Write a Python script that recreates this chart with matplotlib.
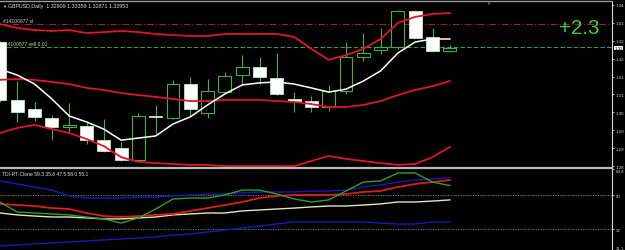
import numpy as np
import matplotlib
matplotlib.use('Agg')
import matplotlib.pyplot as plt
from matplotlib.lines import Line2D

# ..price data (GBPUSD daily)..
opens = [1.3276, 1.3082, 1.3051, 1.3021, 1.2991, 1.2994, 1.2947, 1.2921, 1.2880,
         1.3028, 1.3021, 1.3135, 1.3038, 1.3108, 1.3165, 1.3192, 1.3155, 1.3085,
         1.3078, 1.3058, 1.3112, 1.3226, 1.3249, 1.3259, 1.3380, 1.3293, 1.3246]
highs = [1.3279, 1.3145, 1.3075, 1.3031, 1.3071, 1.3011, 1.3018, 1.2941, 1.3038,
         1.3065, 1.3149, 1.3159, 1.3152, 1.3175, 1.3232, 1.3226, 1.3239, 1.3108,
         1.3095, 1.3132, 1.3276, 1.3306, 1.3323, 1.3383, 1.3383, 1.3323, 1.3266]
lows = [1.3075, 1.3008, 1.3011, 1.2947, 1.2974, 1.2934, 1.2907, 1.2877, 1.2877,
        1.2967, 1.3018, 1.3028, 1.3021, 1.3102, 1.3135, 1.3135, 1.3098, 1.3041,
        1.3041, 1.3045, 1.3102, 1.3212, 1.3236, 1.3253, 1.3289, 1.3242, 1.3242]
closes = [1.3082, 1.3041, 1.3025, 1.2991, 1.2998, 1.2947, 1.2911, 1.2880, 1.3028,
          1.3025, 1.3135, 1.3051, 1.3112, 1.3162, 1.3192, 1.3159, 1.3102, 1.3078,
          1.3058, 1.3112, 1.3226, 1.3239, 1.3259, 1.3380, 1.3289, 1.3246, 1.3256]

upper_band = [1.3336, 1.3323, 1.3316, 1.3313, 1.3316, 1.3306, 1.3309, 1.3313, 1.3309,
              1.3303, 1.3299, 1.3296, 1.3296, 1.3303, 1.3303, 1.3303, 1.3303, 1.3293,
              1.3253, 1.3216, 1.3232, 1.3253, 1.3286, 1.3340, 1.3360, 1.3370, 1.3373]
mid_band = [1.3149, 1.3152, 1.3149, 1.3142, 1.3135, 1.3122, 1.3115, 1.3105, 1.3098,
            1.3092, 1.3085, 1.3078, 1.3078, 1.3082, 1.3082, 1.3082, 1.3078, 1.3075,
            1.3068, 1.3058, 1.3058, 1.3065, 1.3078, 1.3098, 1.3115, 1.3128, 1.3145]
lower_band = [1.2971, 1.2988, 1.2998, 1.2984, 1.2971, 1.2951, 1.2927, 1.2890, 1.2874,
              1.2870, 1.2867, 1.2864, 1.2864, 1.2860, 1.2860, 1.2860, 1.2860, 1.2860,
              1.2877, 1.2894, 1.2884, 1.2877, 1.2870, 1.2864, 1.2867, 1.2890, 1.2924]
ma_white = [1.3185, 1.3165, 1.3135, 1.3085, 1.3028, 1.3008, 1.2984, 1.2947, 1.2954,
            1.2961, 1.3001, 1.3025, 1.3065, 1.3102, 1.3132, 1.3139, 1.3142, 1.3135,
            1.3122, 1.3108, 1.3118, 1.3145, 1.3179, 1.3239, 1.3276, 1.3286, 1.3286]

sl_price = 1.3336
sell_price = 1.3259
bid_price = 1.3256

price_ticks = [1.3400, 1.3340, 1.3280, 1.3220, 1.3160, 1.3100, 1.3040, 1.2980, 1.2920, 1.2860]
price_tick_labels = ['1.34', '1.33', '1.32', '1.32', '1.31', '1.31', '1.30', '1.29', '1.29', '1.28']

# ..TDI indicator values..
tdi_upper = [57.5, 55.9, 54.3, 52.7, 49.6, 48.5, 48.5, 48.5, 49.0, 49.0, 49.6, 50.1, 50.6, 50.6,
             51.2, 51.7, 51.7, 51.7, 52.2, 52.2, 52.7, 54.3, 55.4, 56.9, 58.0, 58.5, 59.3]
tdi_lower = [23.2, 23.8, 24.3, 24.8, 25.3, 25.9, 26.4, 26.9, 27.4, 28.0, 29.0, 29.5, 30.6, 31.6,
             32.7, 33.7, 34.8, 35.9, 35.9, 35.9, 35.9, 35.9, 35.3, 34.8, 34.8, 35.9, 35.8]
tdi_mid = [40.6, 39.6, 39.0, 38.5, 38.5, 38.0, 37.5, 37.5, 38.0, 38.5, 39.6, 40.1, 40.6, 40.6,
           41.7, 42.2, 42.7, 43.2, 43.8, 44.3, 44.3, 44.8, 45.4, 46.4, 46.4, 46.9, 47.5]
tdi_signal = [45.4, 44.8, 44.3, 43.2, 42.7, 40.6, 39.0, 38.5, 39.0, 39.6, 40.1, 41.7, 43.2, 44.8,
              46.4, 48.5, 49.6, 50.1, 50.1, 50.1, 50.6, 51.7, 52.2, 54.3, 55.9, 56.9, 58.0]
tdi_rsi = [46.4, 41.1, 40.6, 40.1, 39.6, 38.5, 37.5, 35.3, 38.0, 42.7, 48.0, 48.5, 48.5, 50.1,
           52.7, 52.7, 50.6, 48.0, 46.4, 47.5, 52.2, 56.9, 57.5, 61.7, 61.7, 56.9, 55.1]
tdi_levels = [50, 32]
tdi_ticks = [63.8, 50, 32, 21.1]
tdi_tick_labels = ['63.8', '50', '32', '21.1']

W, H = 625, 251
CANDLE_GREEN = '#3cb43c'
AXIS_COL = '#d8d8d8'
FONT = ['Liberation Sans', 'DejaVu Sans']
TICK_FS = 3.2

fig = plt.figure(figsize=(W / 100, H / 100), dpi=100, facecolor='black')

# ..main price panel (pixels 3..168) and TDI panel (pixels 170..251)..
ax = fig.add_axes([0, (H - 168) / H, 612 / W, 165 / H], facecolor='black')
ax2 = fig.add_axes([0, 0, 612 / W, 81 / H], facecolor='black')

x = np.arange(len(opens))
xmax = 612 / 17.3

# ..candles..
o = np.array(opens)
c = np.array(closes)
bull = c >= o
ax.vlines(x, lows, highs, color=CANDLE_GREEN, lw=0.8, zorder=3)
body_lo = np.minimum(o, c)
body_h = np.maximum(np.abs(c - o), 0.00012)
ax.bar(x[bull], body_h[bull], bottom=body_lo[bull], width=0.75,
       facecolor='black', edgecolor=CANDLE_GREEN, lw=0.8, zorder=4)
ax.bar(x[~bull], body_h[~bull], bottom=body_lo[~bull], width=0.75,
       facecolor='white', edgecolor='#c8e8c8', lw=0.6, zorder=4)

ax.plot(x, upper_band, color='#e0142c', lw=1.3, zorder=5)
ax.plot(x, mid_band, color='#e0142c', lw=1.3, zorder=5)
ax.plot(x, lower_band, color='#e0142c', lw=1.3, zorder=5)
ax.plot(x, ma_white, color='white', lw=1.1, zorder=6)

ax.axhline(sl_price, color='#a81c2c', lw=0.8, ls=(0, (6, 2, 1, 2)), zorder=2)
ax.axhline(sell_price, color='#3a9e3a', lw=0.8, ls=(0, (4, 2)), zorder=2)
ax.text(3 / 612, sl_price + 0.0003, '#14100877 sl', transform=ax.get_yaxis_transform(),
        color='#d0d0d0', fontsize=3.6, family=FONT, va='bottom', ha='left', zorder=1)
ax.text(2 / 612, sell_price + 0.0003, '#14100877 sell 0.01', transform=ax.get_yaxis_transform(),
        color='#d0d0d0', fontsize=3.6, family=FONT, va='bottom', ha='left', zorder=1)

ax.set_xlim(0, xmax)
ax.set_ylim(1.2857, 1.3410)
ax.set_xticks([])
ax.yaxis.tick_right()
ax.set_yticks(price_ticks)
ax.set_yticklabels(price_tick_labels, family=FONT)
ax.tick_params(axis='y', direction='out', length=1.5, width=0.6, colors=AXIS_COL,
               labelsize=TICK_FS, pad=1.0)
for s in ['top', 'bottom', 'left']:
    ax.spines[s].set_visible(False)
ax.spines['right'].set_color(AXIS_COL)
ax.spines['right'].set_linewidth(0.8)

# ..current price box..
ax.text(1.004, bid_price, '1.32', transform=ax.get_yaxis_transform(), color='black',
        fontsize=TICK_FS, family=FONT, ha='left', va='center', clip_on=False,
        bbox=dict(facecolor='white', edgecolor='none', pad=0.3))

# ..TDI panel..
for lvl in tdi_levels:
    ax2.axhline(lvl, color='#8a8a8a', lw=0.6, ls=(0, (1.5, 1.5)), zorder=1)
ax2.plot(x, tdi_upper, color='#1a1ab8', lw=1.0, zorder=3)
ax2.plot(x, tdi_lower, color='#1a1ab8', lw=1.0, zorder=3)
ax2.plot(x, tdi_mid, color='#e6e6b4', lw=1.0, zorder=3)
ax2.plot(x, tdi_signal, color='#e01c1c', lw=1.3, zorder=4)
ax2.plot(x, tdi_rsi, color='#2ea02e', lw=1.0, zorder=5)

ax2.set_xlim(0, xmax)
ax2.set_ylim(21.1, 63.8)
ax2.set_xticks([])
ax2.yaxis.tick_right()
ax2.set_yticks(tdi_ticks)
ax2.set_yticklabels(tdi_tick_labels, family=FONT)
ax2.tick_params(axis='y', direction='out', length=1.5, width=0.6, colors=AXIS_COL,
                labelsize=TICK_FS, pad=1.0)
labels = ax2.get_yticklabels()
labels[0].set_va('top')
labels[-1].set_va('bottom')
for s in ['top', 'bottom', 'left']:
    ax2.spines[s].set_visible(False)
ax2.spines['right'].set_color(AXIS_COL)
ax2.spines['right'].set_linewidth(0.8)

# ..frame lines and captions..
fig.add_artist(Line2D([0, 612 / W], [1 - 1.5 / H] * 2, color='#9a9a9a', lw=1.0))
fig.add_artist(Line2D([0, 612 / W], [1 - 169 / H] * 2, color='#b8b8b8', lw=1.6))

fig.text(2 / W, 1 - 6.5 / H, '\u25bc', color='#d0d0d0', fontsize=3.0, family=FONT,
         va='center', ha='left')
fig.text(8 / W, 1 - 6.5 / H, 'GBPUSD,Daily  1.32909 1.33359 1.32871 1.32953', color='#e0e0e0',
         fontsize=3.8, family=FONT, va='center', ha='left')
fig.text(488 / W, 1 - 3.5 / H, '\u25bc', color='#8a8a8a', fontsize=3.0, family=FONT,
         va='center', ha='center')
fig.text(579 / W, 1 - 28.5 / H, '+2.3', color='#3ecf3e', fontsize=14.8, family=FONT,
         va='center', ha='center')
fig.text(2 / W, 1 - 175 / H, 'TDI-RT-Clone 59.3 35.8 47.5 58.0 55.1', color='#e0e0e0',
         fontsize=3.6, family=FONT, va='center', ha='left')

fig.savefig('out.png', dpi=100, facecolor='black')
